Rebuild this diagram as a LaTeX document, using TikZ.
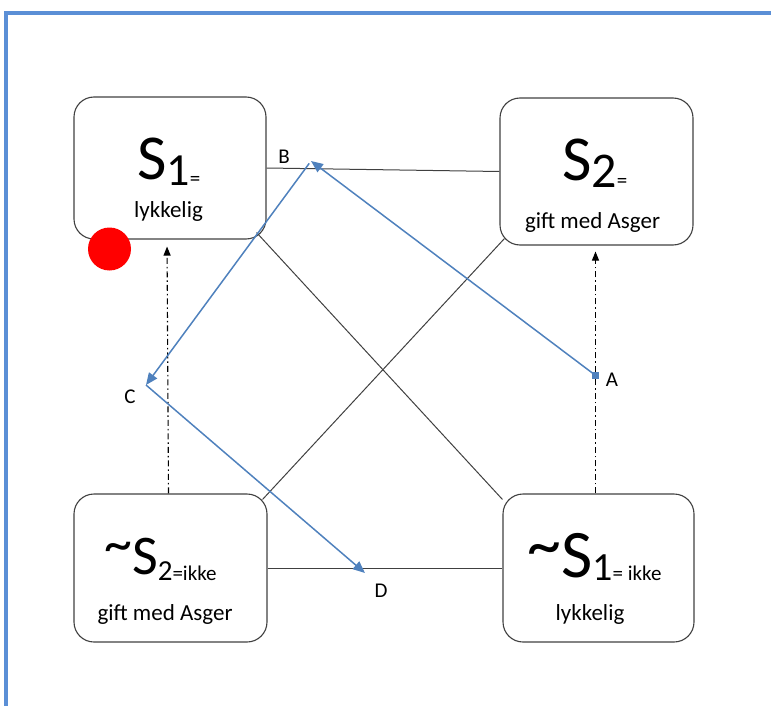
\documentclass[tikz,border=0pt]{standalone}
\usepackage{fontspec}
\setmainfont{Carlito}
\usetikzlibrary{arrows.meta,calc}
\definecolor{frameblue}{HTML}{5B8FD6}
\definecolor{arrowblue}{HTML}{4F81BD}
\definecolor{linegray}{HTML}{404040}
\newcommand{\fs}[1]{\fontsize{#1}{#1}\selectfont}
\begin{document}
\begin{tikzpicture}[x=1pt,y=-1pt,
 box/.style={draw=linegray, line width=1.1pt, rounded corners=20pt, inner sep=0pt},
 conn/.style={draw=linegray, line width=1pt},
 ddarrow/.style={draw=black, line width=1.1pt, dash pattern=on 6pt off 3pt on 1.5pt off 3pt, -{Triangle[length=9pt,width=7pt]}},
 barrow/.style={draw=arrowblue, line width=1.5pt, -{Triangle[length=12pt,width=10pt]}},
 lbl/.style={font=\fs{21}, inner sep=0pt},
 txt/.style={inner sep=0pt, anchor=base west},
 subtxt/.style={inner sep=0pt, anchor=base, font=\fs{23}},
]
\useasboundingbox (0,0) rectangle (771,706);
% frame
\draw[frameblue, line width=3.5pt] (6,706) -- (6,13) -- (771,13);

% boxes
\node[box, minimum width=192pt, minimum height=142pt] (S1) at (170,168) {};
\node[box, minimum width=193pt, minimum height=147pt] (S2) at (596.5,171.5) {};
\node[box, minimum width=193pt, minimum height=148pt] (nS2) at (170.5,568) {};
\node[box, minimum width=191pt, minimum height=148pt] (nS1) at (598.5,568) {};

% texts
\node[txt] (t1) at (137,179) {\fs{64}S\raisebox{-6pt}{\fs{46}1\fs{21}=}};
\node[subtxt] (t1b) at (168.5,217) {lykkelig};
\node[txt] (t2) at (562,180) {\fs{64}S\raisebox{-7pt}{\fs{50}2\fs{21}=}};
\node[subtxt] (t2b) at (592.5,228) {gift med Asger};
\node[txt] (t3) at (104,574) {\raisebox{12pt}{\fs{56}\textasciitilde}\fs{56}S\raisebox{-6pt}{\fs{29}2\fs{21}=ikke}};
\node[subtxt] (t3b) at (165,620) {gift med Asger};
\node[txt] (t4) at (527,577) {\raisebox{10pt}{\fs{68}\textasciitilde}\fs{68}S\raisebox{-3pt}{\fs{40}1\fs{21}= ikke}};
\node[subtxt] (t4b) at (590,620) {lykkelig};

% red dot
\node[circle, fill=red, minimum size=43pt, inner sep=0pt] (dot) at (109.5,249) {};

% connectors
\draw[conn] (S1.east) -- (S2.west);
\draw[conn] (nS2.east) -- (nS1.west);
\draw[conn] ([shift={(-10,-7)}]S1.south east) -- ([shift={(0,6)}]nS1.north west);
\draw[conn] ([shift={(-5,6)}]nS2.north east) -- ([shift={(5,-7)}]S2.south west);

% dash-dot arrows
\draw[ddarrow, shorten >=7pt] ([xshift=-2pt]nS2.north) -- ([xshift=-3pt]S1.south);
\draw[ddarrow, shorten >=6pt] ([xshift=-3pt]nS1.north) -- ([xshift=-1pt]S2.south);

% blue path
\coordinate (A) at (595,375);
\coordinate (B) at (311,161);
\coordinate (C) at (146,385);
\coordinate (D) at (365,573);
\node[fill=arrowblue, minimum size=7pt, inner sep=0pt] (Asq) at (A) {};
\draw[barrow] (Asq.center) -- (B);
\draw[barrow, shorten <=3pt] (B) -- (C);
\draw[barrow] (C) -- (D);

% labels
\node[lbl] (lA) at (612,380) {A};
\node[lbl] (lB) at (284,157) {B};
\node[lbl] (lC) at (130,397) {C};
\node[lbl] (lD) at (381,591) {D};
\end{tikzpicture}
\end{document}
